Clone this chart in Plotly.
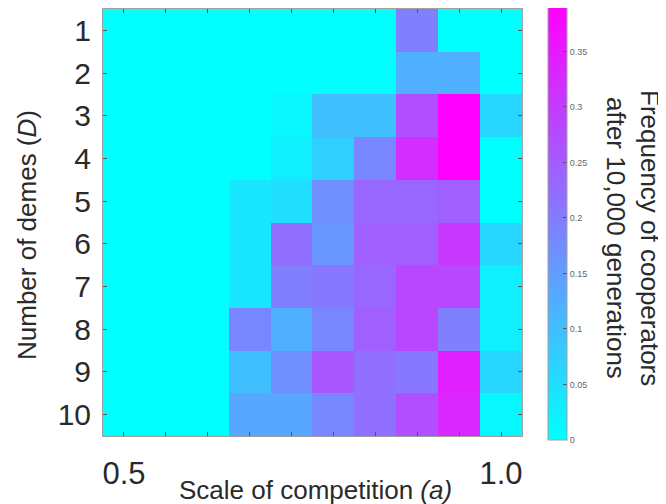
import plotly.graph_objects as go

# Data
a_values = [0.5, 0.5556, 0.6111, 0.6667, 0.7222, 0.7778, 0.8333, 0.8889, 0.9444, 1.0]
demes = [1, 2, 3, 4, 5, 6, 7, 8, 9, 10]
freq = [
    [0, 0, 0, 0, 0,     0,     0,     0.195, 0,     0],
    [0, 0, 0, 0, 0,     0,     0,     0.122, 0.122, 0],
    [0, 0, 0, 0, 0.012, 0.098, 0.098, 0.270, 0.390, 0.061],
    [0, 0, 0, 0, 0.024, 0.073, 0.184, 0.320, 0.390, 0],
    [0, 0, 0, 0.037, 0.049, 0.172, 0.233, 0.233, 0.245, 0],
    [0, 0, 0, 0.037, 0.220, 0.160, 0.245, 0.245, 0.305, 0.061],
    [0, 0, 0, 0.037, 0.195, 0.207, 0.233, 0.280, 0.280, 0.024],
    [0, 0, 0, 0.184, 0.122, 0.184, 0.245, 0.280, 0.195, 0.024],
    [0, 0, 0, 0.098, 0.172, 0.257, 0.220, 0.207, 0.343, 0.061],
    [0, 0, 0, 0.135, 0.135, 0.184, 0.220, 0.270, 0.330, 0.012],
]
x_ticktext = ["0.5", "", "", "", "", "", "", "", "", "1.0"]
cbar_ticks = [0, 0.05, 0.1, 0.15, 0.2, 0.25, 0.3, 0.35]
cbar_ticktext = ["0", "0.05", "0.1", "0.15", "0.2", "0.25", "0.3", "0.35"]
cbar_title_lines = ["Frequency of cooperators", "after 10,000 generations"]

FONT = "Liberation Sans, Arial, sans-serif"
TXT = "#2a2a2a"
OFF = 8  # page body margin offset
W, H = 666 - OFF, 504 - OFF
# plot area in screen pixels: x 103..522, y 9..436
ML, MT = 103 - OFF, max(9 - OFF, 0)
MR, MB = W - (522 - OFF), H - (436 - OFF)
plot_w = W - ML - MR
plot_h = H - MT - MB


def px(sx):
    return (sx - OFF - ML) / plot_w


def py(sy):
    return (H - MB - (sy - OFF)) / plot_h


fig = go.Figure(go.Heatmap(
    z=freq, x=a_values, y=demes,
    colorscale=[[0, "#00FFFF"], [1, "#FF00FF"]],
    zmin=0, zmax=0.39,
    colorbar=dict(
        thickness=19, thicknessmode="pixels",
        len=433, lenmode="pixels",
        x=px(548), xanchor="left",
        y=py(7), yanchor="top",
        ypad=0, xpad=0,
        outlinecolor="#a0a0a0", outlinewidth=1,
        tickvals=cbar_ticks, ticktext=cbar_ticktext,
        ticks="inside", ticklen=4, tickcolor="#555",
        tickfont=dict(family=FONT, size=9, color="#666"),
    ),
))

annotations = [
    dict(text="Scale of competition <i>(a)</i>", xref="paper", yref="paper",
         x=px(315), y=py(490), xanchor="center", yanchor="middle",
         showarrow=False, font=dict(size=26, color=TXT)),
    dict(text="Number of demes (<i>D</i>)", xref="paper", yref="paper",
         x=px(27), y=py(235),
         xanchor="center", yanchor="middle", textangle=-90,
         showarrow=False, font=dict(size=26, color=TXT)),
]
for line, sx in zip(cbar_title_lines, [650, 616]):
    annotations.append(dict(
        text=line, xref="paper", yref="paper",
        x=px(sx), y=py(238), xanchor="center", yanchor="middle", textangle=90,
        showarrow=False, font=dict(size=26, color=TXT)))

fig.update_layout(
    width=W, height=H,
    margin=dict(l=ML, r=MR, t=MT, b=MB, pad=0, autoexpand=False),
    paper_bgcolor="white", plot_bgcolor="white",
    font=dict(family=FONT, color=TXT),
    xaxis=dict(
        range=[0.5 - 0.02778, 1.0 + 0.02778],
        tickvals=a_values, ticktext=x_ticktext,
        ticks="inside", ticklen=4, tickcolor="#555",
        tickfont=dict(size=31, color=TXT),
        ticklabelstandoff=10,
        showline=True, linecolor="#a0a0a0", linewidth=1, mirror="ticks",
        showgrid=False, zeroline=False,
    ),
    yaxis=dict(
        range=[10.5, 0.5],
        tickvals=demes, ticktext=[str(d) for d in demes],
        ticks="inside", ticklen=4, tickcolor="#555",
        tickfont=dict(size=30, color=TXT),
        ticklabelstandoff=5,
        showline=True, linecolor="#a0a0a0", linewidth=1, mirror="ticks",
        showgrid=False, zeroline=False,
    ),
    annotations=annotations,
)

fig.write_html("out.html")
